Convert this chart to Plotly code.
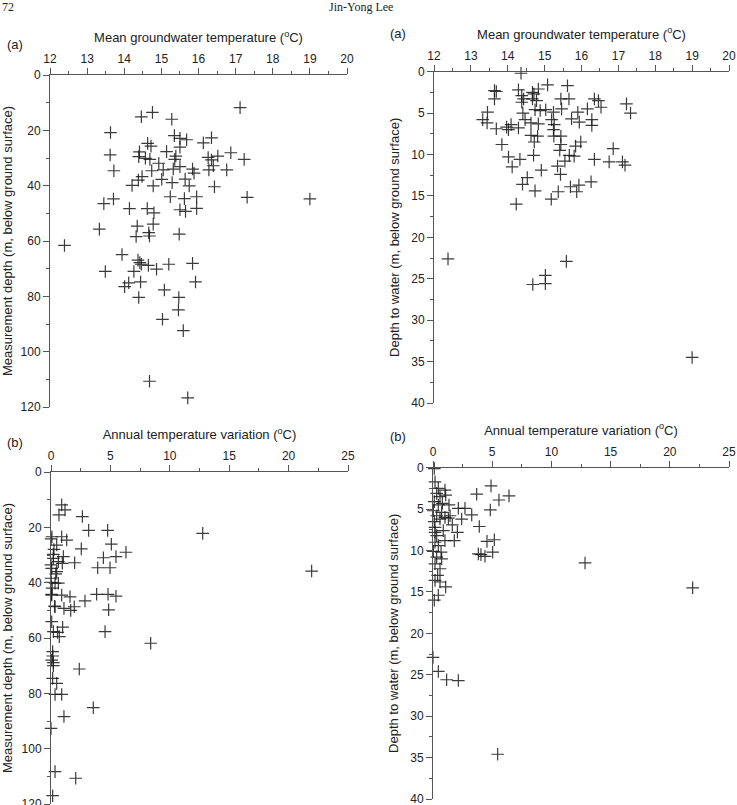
import plotly.graph_objects as go

# Panel (a) left: mean groundwater temperature vs measurement depth
mean_temp_md = [17.12, 14.46, 14.76, 15.28, 13.63, 15.35, 15.50, 15.68, 16.13, 16.35,
                14.63, 14.72, 15.50, 16.87, 13.62, 14.41, 14.39, 14.57, 14.69, 15.14,
                15.39, 15.36, 14.93, 16.26, 16.35, 16.52, 17.23, 13.72, 14.74, 15.05,
                15.32, 15.50, 15.84, 15.88, 16.28, 16.40, 16.76, 14.48, 14.38, 15.01,
                15.29, 15.64, 14.21, 14.78, 15.75, 16.43, 13.71, 13.45, 15.24, 15.62,
                15.95, 17.31, 19.00, 14.14, 14.62, 14.80, 15.50, 15.65, 15.95, 14.78,
                14.35, 13.33, 14.32, 14.66, 14.68, 15.48, 12.39, 13.94, 14.37, 14.42,
                14.46, 14.65, 14.87, 15.20, 15.84, 13.49, 14.26, 14.12, 14.01, 14.44,
                15.92, 15.08, 14.39, 15.47, 15.46, 15.03, 15.59, 14.68, 15.71]
meas_depth_a = [11.8, 15.1, 13.5, 16.0, 20.8, 21.9, 22.9, 23.4, 24.5, 22.7,
                24.7, 25.7, 26.1, 28.1, 28.9, 27.8, 29.5, 30.1, 30.5, 27.7,
                29.3, 30.5, 31.9, 29.8, 30.7, 29.3, 30.5, 34.6, 34.6, 34.3,
                34.0, 33.1, 34.0, 35.5, 34.3, 32.8, 34.3, 36.7, 38.0, 37.7,
                38.9, 37.6, 39.9, 40.1, 40.1, 40.4, 44.8, 46.5, 44.0, 44.7,
                44.0, 44.2, 44.8, 48.3, 48.3, 49.8, 48.7, 49.3, 48.2, 53.9,
                54.6, 55.7, 58.4, 57.0, 58.2, 57.5, 61.6, 64.9, 66.9, 67.8,
                68.4, 68.8, 70.2, 68.4, 68.1, 71.0, 71.0, 75.1, 76.5, 74.8,
                74.8, 77.7, 80.4, 80.4, 84.9, 88.3, 92.4, 110.7, 116.7]

# Panel (a) right: mean groundwater temperature vs depth to water
mean_temp_dw = [14.36, 15.08, 15.62, 13.64, 13.69, 13.64, 14.29, 14.38, 14.43, 14.38,
                14.67, 14.71, 14.67, 14.83, 14.78, 15.44, 15.66, 15.46, 16.35, 16.46,
                16.53, 16.16, 17.22, 17.33, 13.45, 13.32, 13.44, 13.69, 13.97, 14.09,
                14.02, 14.29, 14.41, 14.47, 14.63, 14.83, 14.74, 14.88, 15.03, 15.24,
                15.19, 15.26, 15.24, 15.25, 15.44, 15.73, 15.90, 15.94, 16.28, 16.28,
                14.63, 14.81, 14.72, 13.84, 15.44, 15.41, 15.84, 15.98, 16.86, 14.70,
                14.02, 14.33, 14.12, 15.67, 15.80, 15.55, 16.35, 16.75, 17.11, 17.18,
                15.35, 14.91, 15.43, 14.53, 14.40, 14.74, 15.70, 15.93, 15.87, 16.26,
                15.37, 15.18, 14.23, 12.38, 15.59, 15.02, 15.02, 14.68, 19.00]
depth_water_a = [0.2, 1.6, 1.7, 2.3, 2.4, 3.3, 2.2, 2.9, 3.3, 3.7,
                 2.5, 2.7, 3.3, 2.1, 3.5, 3.3, 3.3, 4.5, 3.3, 3.5,
                 4.3, 4.5, 3.9, 5.0, 4.9, 5.8, 6.2, 6.9, 6.7, 6.4,
                 7.0, 6.8, 5.0, 5.8, 6.2, 6.3, 4.6, 4.7, 4.6, 4.9,
                 5.8, 6.4, 7.0, 7.8, 7.8, 5.7, 4.9, 6.1, 5.8, 6.5,
                 7.7, 7.8, 8.5, 8.8, 8.8, 9.5, 9.0, 8.5, 9.3, 10.1,
                 10.3, 10.6, 11.5, 10.1, 10.2, 10.8, 10.6, 10.9, 10.9, 11.3,
                 11.4, 11.9, 12.4, 12.8, 13.6, 14.4, 13.9, 13.7, 14.5, 13.3,
                 14.5, 15.4, 16.0, 22.6, 22.9, 24.6, 25.6, 25.7, 34.5]

# Panel (b) left: annual temperature variation vs measurement depth
annual_var_md = [0.90, 1.18, 0.67, 2.64, 3.17, 4.77, 12.77, 0.08, 0.90, 1.32,
                 5.08, 2.55, 6.31, 5.47, 4.41, 0.20, 0.48, 1.04, 0.95, 1.99,
                 3.93, 4.97, 0.06, 0.48, 21.94, 0.00, 0.34, 0.06, 0.90, 1.60,
                 3.84, 4.80, 5.47, 2.86, 0.34, 1.09, 1.66, 1.96, 4.85, 0.06,
                 0.98, 0.20, 0.70, 4.55, 8.39, 0.14, 0.06, 0.20, 2.38, 0.14,
                 0.48, 0.34, 0.90, 3.56, 1.09, 0.00, 0.34, 2.08, 0.14,
                 0.00, 0.00, 0.05, 0.62, 0.20, 0.62, 0.00, 0.25, 0.40, 0.10,
                 0.30, 0.15, 0.55, 0.20]
meas_depth_b = [11.9, 13.7, 15.5, 16.1, 21.1, 21.1, 22.2, 23.4, 23.4, 24.6,
                26.1, 27.8, 29.0, 30.6, 31.0, 29.8, 26.4, 30.6, 33.0, 32.8,
                34.6, 34.6, 34.8, 36.0, 35.8, 39.9, 40.2, 44.5, 44.5, 45.1,
                44.2, 44.2, 44.9, 46.6, 48.7, 49.3, 50.0, 48.7, 49.8, 54.1,
                56.1, 57.7, 59.5, 57.7, 61.9, 64.9, 68.0, 68.9, 71.2, 74.6,
                76.4, 80.4, 80.4, 85.2, 88.4, 92.7, 108.3, 110.7, 117.0,
                24.2, 33.6, 44.2, 40.2, 31.2, 32.4, 38.4, 28.0, 36.8, 42.0,
                48.5, 66.5, 58.0, 70.0]

# Panel (b) right: annual temperature variation vs depth to water
annual_var_dw = [0.11, 4.90, 3.69, 6.42, 5.57, 4.84, 2.14, 2.70, 3.27, 2.42,
                 1.35, 1.63, 3.91, 2.06, 1.80, 1.01, 4.56, 5.18, 5.04, 4.05,
                 4.39, 3.83, 12.84, 21.93, 0.00, 0.45, 1.15, 2.14, 5.46,
                 0.17, 0.45, 1.01, 0.31, 1.07, 0.59, 0.11, 0.45, 0.03, 0.73,
                 0.31, 1.01, 0.59, 0.11, 1.30, 0.17, 0.87, 0.31, 0.17, 0.45,
                 0.03, 0.31, 0.73, 0.17, 0.59, 0.39, 0.17, 0.59, 1.07, 0.45,
                 0.11, 0.68, 0.17, 0.79, 1.44]
depth_water_b = [0.1, 2.2, 3.2, 3.4, 3.9, 5.1, 4.9, 4.9, 5.7, 6.2,
                 4.5, 6.9, 7.1, 7.8, 8.8, 8.8, 8.9, 8.7, 10.2, 10.5,
                 10.7, 10.4, 11.5, 14.5, 22.9, 24.6, 25.6, 25.7, 34.6,
                 1.7, 2.5, 2.7, 3.1, 3.3, 3.5, 4.1, 4.5, 5.2, 5.4,
                 5.8, 6.0, 6.2, 6.5, 6.1, 7.2, 7.6, 8.2, 9.0, 9.4,
                 10.1, 10.8, 11.0, 11.6, 12.2, 13.0, 13.6, 13.8, 14.4, 15.4,
                 16.0, 10.2, 7.8, 4.3, 5.8]

W, H = 737, 805
FONT = "Arial, Liberation Sans, sans-serif"
AX = "#555555"
TXT = "#222222"

marker = dict(symbol="cross-thin", size=9,
              line=dict(width=1.2, color="rgba(25,25,25,0.85)"))

fig = go.Figure()
panels = [
    (mean_temp_md, meas_depth_a, "x", "y"),
    (mean_temp_dw, depth_water_a, "x2", "y2"),
    (annual_var_md, meas_depth_b, "x3", "y3"),
    (annual_var_dw, depth_water_b, "x4", "y4"),
]
for xs, ys, xa, ya in panels:
    fig.add_trace(go.Scatter(x=xs, y=ys, mode="markers", marker=marker,
                             xaxis=xa, yaxis=ya, showlegend=False,
                             cliponaxis=False))

def px_x(p):
    return p / W

def px_y(p):
    return 1 - p / H

def xax(dom, rng, dtick, minor, title, anchor):
    return dict(domain=dom, range=rng, side="top", anchor=anchor,
                showline=True, linecolor=AX, linewidth=1,
                ticks="outside", ticklen=6, tickcolor=AX, tickwidth=1,
                dtick=dtick, tick0=rng[0], ticklabeloverflow="allow",
                minor=dict(dtick=minor, ticks="outside", ticklen=3,
                           tickcolor=AX, tickwidth=1),
                showgrid=False, zeroline=False,
                tickfont=dict(family=FONT, size=12, color=TXT),
                title=dict(text=title, font=dict(family=FONT, size=13, color=TXT),
                           standoff=6),
                automargin=False, fixedrange=True)

def yax(dom, rng, dtick, minor, title, anchor):
    return dict(domain=dom, range=rng, anchor=anchor,
                showline=True, linecolor=AX, linewidth=1,
                ticks="outside", ticklen=6, tickcolor=AX, tickwidth=1,
                dtick=dtick, tick0=0, ticklabeloverflow="allow",
                minor=dict(dtick=minor, ticks="outside", ticklen=3,
                           tickcolor=AX, tickwidth=1),
                showgrid=False, zeroline=False,
                tickfont=dict(family=FONT, size=12, color=TXT),
                title=dict(text=title, font=dict(family=FONT, size=13, color=TXT),
                           standoff=8),
                automargin=False, fixedrange=True)

deg = "(<sup>o</sup>C)"
fig.update_layout(
    width=W, height=H,
    margin=dict(l=0, r=0, t=0, b=0),
    paper_bgcolor="white", plot_bgcolor="white",
    xaxis=xax([px_x(50), px_x(347)], [12, 20], 1, 0.5,
              "Mean groundwater temperature " + deg, "y"),
    yaxis=yax([px_y(407), px_y(75)], [120, 0], 20, 10,
              "Measurement depth (m, below ground surface)", "x"),
    xaxis2=xax([px_x(434), px_x(729)], [12, 20], 1, 0.5,
               "Mean groundwater temperature " + deg, "y2"),
    yaxis2=yax([px_y(403), px_y(71.6)], [40, 0], 5, 2.5,
               "Depth to water (m, below ground surface)", "x2"),
    xaxis3=xax([px_x(51), px_x(348)], [0, 25], 5, 2.5,
               "Annual temperature variation " + deg, "y3"),
    yaxis3=yax([px_y(804), px_y(472)], [120, 0], 20, 10,
               "Measurement depth (m, below ground surface)", "x3"),
    xaxis4=xax([px_x(433), px_x(729)], [0, 25], 5, 2.5,
               "Annual temperature variation " + deg, "y4"),
    yaxis4=yax([px_y(799), px_y(467.7)], [40, 0], 5, 2.5,
               "Depth to water (m, below ground surface)", "x4"),
)

labels = [("(a)", 15, 45), ("(a)", 398, 34), ("(b)", 15, 442), ("(b)", 398, 437)]
for txt, x, y in labels:
    fig.add_annotation(text=txt, x=px_x(x), y=px_y(y), xref="paper", yref="paper",
                       showarrow=False, xanchor="center", yanchor="middle",
                       font=dict(family=FONT, size=13, color=TXT))

fig.add_annotation(text="72", x=px_x(0), y=px_y(7), xref="paper", yref="paper",
                   showarrow=False, xanchor="left", yanchor="middle",
                   font=dict(family="Liberation Serif, serif", size=12, color=TXT))
fig.add_annotation(text="Jin-Yong Lee", x=px_x(361), y=px_y(7), xref="paper", yref="paper",
                   showarrow=False, xanchor="center", yanchor="middle",
                   font=dict(family="Liberation Serif, serif", size=12, color=TXT))

fig.write_html("out.html")
